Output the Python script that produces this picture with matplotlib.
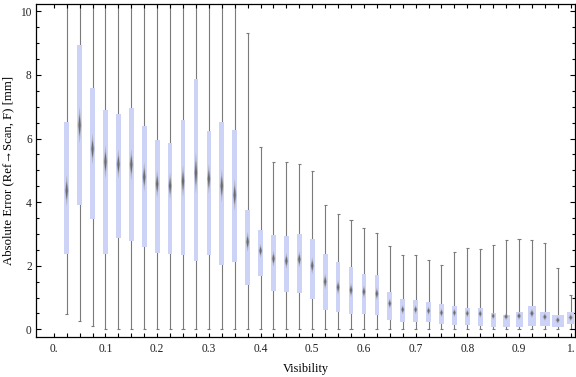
import numpy as np
import matplotlib
matplotlib.use("Agg")
import matplotlib.pyplot as plt
from matplotlib.patches import Polygon
from matplotlib.ticker import FixedLocator, MultipleLocator

plt.rcParams['font.family'] = ['Liberation Serif', 'DejaVu Serif']

# visibility bins (box centres)
vis = [0.025 * k for k in range(1, 41)]

# lower whisker, lower quartile, median, upper quartile, upper whisker [mm]
w_lo = [0.48, 0.25, 0.10, 0.02, 0.01, 0.01, 0.01, 0.01, 0.01, 0.0,
        0.0, 0.0, 0.0, 0.0, 0.0, 0.0, 0.0, 0.0, 0.0, 0.0,
        0.0, 0.0, 0.0, 0.0, 0.0, 0.0, 0.0, 0.0, 0.0, 0.0,
        0.0, 0.0, 0.0, 0.0, 0.0, 0.0, 0.0, 0.0, 0.0, 0.0]
q1 = [2.38, 3.92, 3.46, 2.38, 2.88, 2.79, 2.60, 2.41, 2.38, 2.34,
      2.16, 2.34, 2.03, 2.12, 1.39, 1.68, 1.21, 1.18, 1.15, 0.95,
      0.62, 0.55, 0.47, 0.49, 0.46, 0.30, 0.24, 0.24, 0.24, 0.18,
      0.15, 0.15, 0.11, 0.08, 0.08, 0.08, 0.11, 0.11, 0.08, 0.18]
med = [4.36, 6.42, 5.67, 5.27, 5.19, 5.18, 4.79, 4.57, 4.51, 4.66,
       4.92, 4.73, 4.51, 4.22, 2.75, 2.47, 2.22, 2.15, 2.20, 2.00,
       1.50, 1.32, 1.23, 1.18, 1.12, 0.81, 0.62, 0.62, 0.58, 0.52,
       0.52, 0.50, 0.49, 0.42, 0.40, 0.42, 0.50, 0.39, 0.29, 0.37]
q3 = [6.51, 8.94, 7.58, 6.89, 6.77, 6.95, 6.38, 5.95, 5.85, 6.58,
      7.87, 6.24, 6.52, 6.27, 3.74, 3.12, 2.96, 2.92, 2.99, 2.84,
      2.36, 2.11, 1.95, 1.74, 1.71, 1.16, 0.95, 0.92, 0.85, 0.80,
      0.73, 0.67, 0.67, 0.51, 0.45, 0.54, 0.73, 0.54, 0.45, 0.54]
w_hi = [14, 14, 14, 14, 14, 14, 14, 14, 14, 14,
        14, 14, 14, 14, 9.31, 5.72, 5.25, 5.25, 5.19, 4.97,
        3.92, 3.64, 3.43, 3.18, 3.02, 2.61, 2.33, 2.33, 2.17, 2.01,
        2.42, 2.55, 2.52, 2.64, 2.80, 2.83, 2.80, 2.70, 1.92, 1.07]

# box widths (style, in data units)
box_w = [0.0091] * 34 + [0.0135, 0.0135, 0.015, 0.020, 0.023, 0.0143]

box_col = '#cdd3f6'
wh_col = '#7a7a7a'

fig = plt.figure(figsize=(5.76, 3.77), dpi=100)
ax = fig.add_axes([36 / 576, 1 - 337 / 377, 539 / 576, 333 / 377])

x = np.array(vis)
ax.vlines(x, w_lo, w_hi, color=wh_col, lw=0.8, zorder=1)
ax.hlines(w_lo, x - 0.003, x + 0.003, color=wh_col, lw=0.8, zorder=1)
ax.hlines(w_hi, x - 0.003, x + 0.003, color=wh_col, lw=0.8, zorder=1)
ax.bar(x, np.array(q3) - np.array(q1), bottom=q1, width=box_w,
       color=box_col, lw=0, zorder=2)

# blurred diamond median markers
for xi, m, a, b, w in zip(vis, med, q1, q3, box_w):
    h = 0.1 * (b - a) + 0.08
    hw = min(0.0045, 0.4 * w)
    for s, c, al in [(1.0, '#9a9a9a', 0.55), (0.6, '#5a5a5a', 0.8)]:
        pts = [(xi - hw * s, m), (xi, m + h * s), (xi + hw * s, m), (xi, m - h * s)]
        ax.add_patch(Polygon(pts, closed=True, fc=c, ec='none', alpha=al, zorder=3))

ax.set_xlim(-0.0344, 1.0083)
ax.set_ylim(-0.242, 10.23)

xt = [0.025 * k for k in range(0, 41)]
ax.xaxis.set_major_locator(FixedLocator(xt))
ax.set_xticklabels(['0.' if i == 0 else ('1.' if i == 40 else (f'{i * 0.025:.1f}' if i % 4 == 0 else ''))
                    for i in range(41)])
ax.yaxis.set_major_locator(MultipleLocator(2))
ax.yaxis.set_minor_locator(MultipleLocator(0.5))

ax.tick_params(axis='x', which='major', direction='in', length=3.0, width=0.8,
               top=True, labelsize=8.3, pad=4, labelcolor='#222222')
ax.tick_params(axis='y', which='major', direction='in', length=3.5, width=0.8,
               right=True, labelsize=8.3, pad=3, labelcolor='#222222')
ax.tick_params(axis='y', which='minor', direction='in', length=2.0, width=0.8, right=True)

for sp in ax.spines.values():
    sp.set_linewidth(0.9)
    sp.set_color('black')

ax.set_xlabel('Visibility', fontsize=8.8)
ax.set_ylabel('Absolute Error (Ref\u2192Scan, F) [mm]', fontsize=9.2)
ax.xaxis.set_label_coords(0.5, -0.096)
ax.xaxis.label.set_va('center')
ax.yaxis.set_label_coords(-0.052, 0.5)
ax.yaxis.label.set_va('center')

fig.savefig('out.png', dpi=100)
